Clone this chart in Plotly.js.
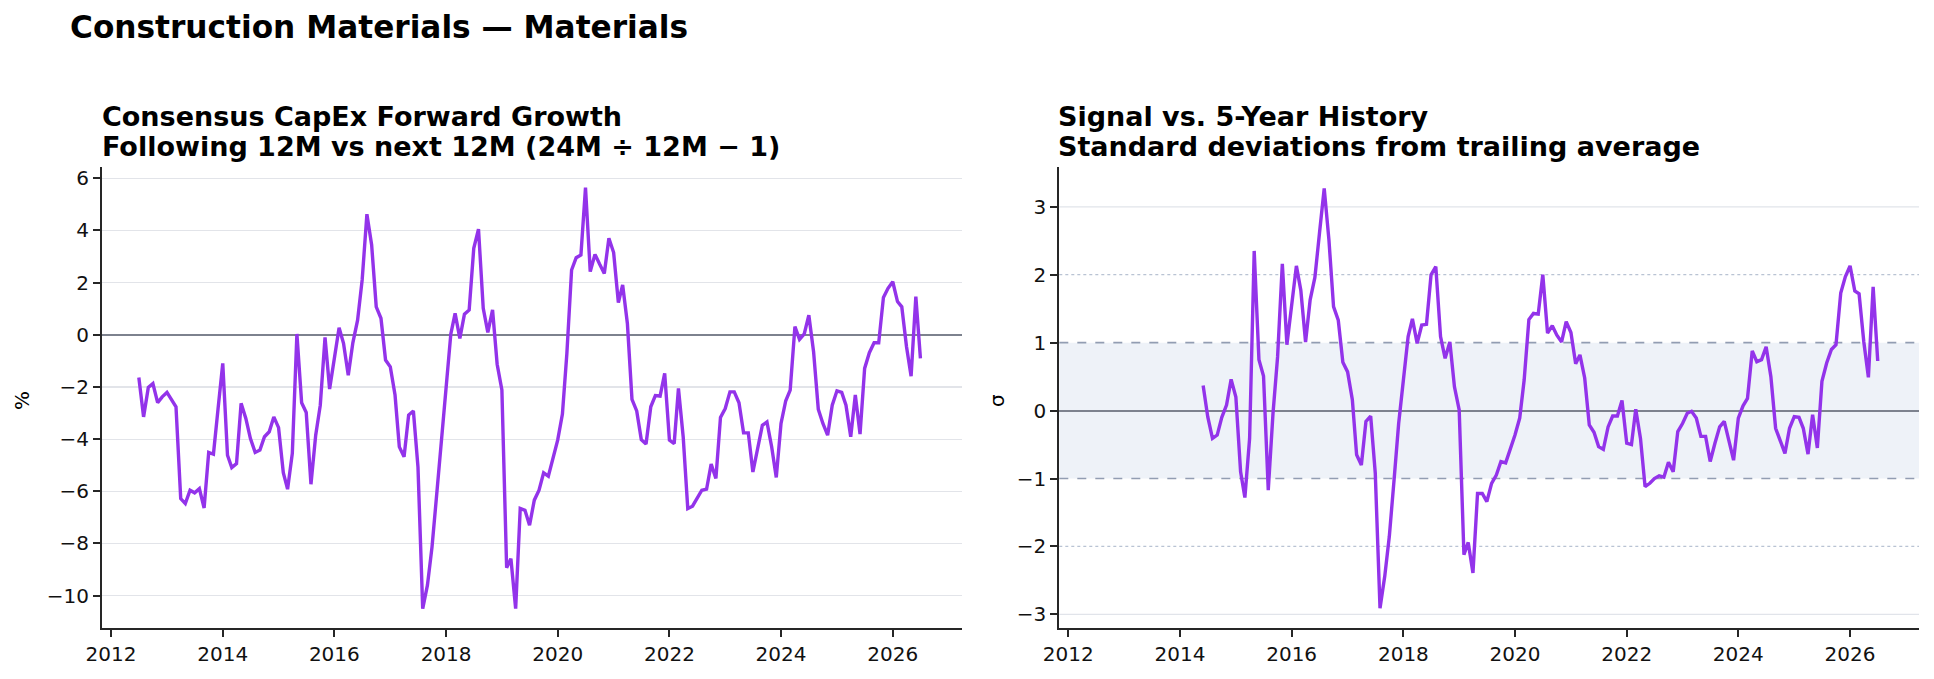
<!DOCTYPE html>
<html>
<head>
<meta charset="utf-8">
<script src="https://cdn.plot.ly/plotly-3.0.1.min.js"></script>
<style>
  html, body { margin: 0; padding: 0; background: #ffffff; }
  #chart { width: 1934px; height: 679px; }
</style>
</head>
<body>
<div id="chart"></div>
<script>
// Monthly consensus CapEx forward growth (%), Jul 2012 – Jul 2026
const growthStart = [2012, 7];
const growthPct = [
  -1.64, -3.15, -2.02, -1.87, -2.60, -2.38, -2.21, -2.53, -2.76, -6.28,
  -6.47, -5.96, -6.06, -5.90, -6.64, -4.51, -4.58, -2.85, -1.10, -4.62,
  -5.09, -4.94, -2.63, -3.21, -3.98, -4.51, -4.42, -3.91, -3.72, -3.15,
  -3.56, -5.29, -5.92, -4.55, 0.03, -2.61, -2.98, -5.73, -3.85, -2.70,
  -0.10, -2.08, -0.97, 0.27, -0.33, -1.55, -0.31, 0.56, 2.10, 4.62,
  3.44, 1.07, 0.63, -0.97, -1.23, -2.31, -4.30, -4.68, -3.08, -2.92,
  -5.06, -10.50, -9.60, -8.13, -6.09, -3.98, -2.12, 0.03, 0.82, -0.14,
  0.79, 0.95, 3.31, 4.05, 1.01, 0.09, 0.95, -1.13, -2.12, -8.93,
  -8.58, -10.50, -6.66, -6.73, -7.30, -6.34, -5.96, -5.29, -5.42, -4.74,
  -4.04, -3.04, -0.72, 2.48, 2.95, 3.06, 5.64, 2.42, 3.08, 2.71,
  2.35, 3.70, 3.15, 1.23, 1.91, 0.43, -2.48, -2.92, -4.02, -4.19,
  -2.76, -2.33, -2.35, -1.48, -4.04, -4.17, -2.06, -3.91, -6.66, -6.57,
  -6.25, -5.96, -5.92, -4.96, -5.51, -3.17, -2.83, -2.19, -2.19, -2.61,
  -3.76, -3.76, -5.26, -4.30, -3.47, -3.34, -4.30, -5.47, -3.40, -2.53,
  -2.12, 0.31, -0.18, 0.03, 0.75, -0.65, -2.86, -3.40, -3.85, -2.70,
  -2.15, -2.21, -2.70, -3.91, -2.31, -3.81, -1.29, -0.69, -0.31, -0.31,
  1.43, 1.78, 2.03, 1.27, 1.07, -0.46, -1.59, 1.46, -0.91
];

// Z-score of the signal against its trailing 5-year history, Jun 2014 – Jul 2026
const zStart = [2014, 6];
const zScore = [
  0.37, -0.09, -0.41, -0.36, -0.10, 0.08, 0.46, 0.20, -0.90, -1.28,
  -0.41, 2.35, 0.75, 0.51, -1.17, -0.04, 0.79, 2.16, 0.97, 1.53,
  2.13, 1.77, 1.01, 1.63, 1.96, 2.61, 3.27, 2.51, 1.53, 1.33,
  0.71, 0.57, 0.16, -0.65, -0.80, -0.16, -0.08, -0.92, -2.91, -2.44,
  -1.85, -1.02, -0.19, 0.45, 1.09, 1.35, 0.99, 1.26, 1.27, 2.00,
  2.12, 1.09, 0.77, 1.01, 0.35, 0.01, -2.12, -1.94, -2.39, -1.22,
  -1.22, -1.34, -1.07, -0.95, -0.75, -0.77, -0.58, -0.36, -0.11, 0.45,
  1.34, 1.43, 1.42, 2.00, 1.14, 1.25, 1.11, 1.01, 1.31, 1.15,
  0.69, 0.82, 0.48, -0.21, -0.32, -0.53, -0.57, -0.24, -0.08, -0.08,
  0.15, -0.48, -0.50, 0.02, -0.41, -1.12, -1.07, -1.00, -0.96, -0.98,
  -0.76, -0.90, -0.31, -0.19, -0.04, -0.01, -0.11, -0.38, -0.38, -0.75,
  -0.48, -0.24, -0.16, -0.43, -0.73, -0.11, 0.07, 0.18, 0.88, 0.72,
  0.75, 0.94, 0.50, -0.26, -0.46, -0.63, -0.26, -0.09, -0.10, -0.26,
  -0.64, -0.06, -0.55, 0.43, 0.70, 0.90, 0.97, 1.73, 1.97, 2.13,
  1.76, 1.72, 1.01, 0.49, 1.82, 0.73
];

const xTickYears = ['2012', '2014', '2016', '2018', '2020', '2022', '2024', '2026'];
const growthTicks = [-10, -8, -6, -4, -2, 0, 2, 4, 6];
const zTicks = [-3, -2, -1, 0, 1, 2, 3];

const suptitle = 'Construction Materials — Materials';
const leftTitle = ['Consensus CapEx Forward Growth', 'Following 12M vs next 12M (24M ÷ 12M − 1)'];
const rightTitle = ['Signal vs. 5-Year History', 'Standard deviations from trailing average'];

// Month-start date strings for a series beginning at [year, month]
function monthDates(start, n) {
  const out = [];
  let y = start[0], m = start[1];
  for (let i = 0; i < n; i++) {
    out.push(y + '-' + String(m).padStart(2, '0') + '-01');
    m += 1;
    if (m > 12) { m = 1; y += 1; }
  }
  return out;
}

const W = 1934, H = 679;
const FONT = 'DejaVu Sans, Liberation Sans, sans-serif';
const INK = '#262626';
const PURPLE = '#9333ea';

const px = v => v / W;            // horizontal pixel -> paper
const py = v => 1 - v / H;        // vertical pixel -> paper

const traces = [
  {
    x: monthDates(growthStart, growthPct.length), y: growthPct,
    type: 'scatter', mode: 'lines', xaxis: 'x', yaxis: 'y',
    line: { color: PURPLE, width: 3.4 }, hoverinfo: 'skip', showlegend: false
  },
  {
    x: monthDates(zStart, zScore.length), y: zScore,
    type: 'scatter', mode: 'lines', xaxis: 'x2', yaxis: 'y2',
    line: { color: PURPLE, width: 3.4 }, hoverinfo: 'skip', showlegend: false
  }
];

const xRange = ['2011-11-03', '2027-03-28'];
const xCommon = {
  type: 'date', range: xRange,
  tickvals: xTickYears.map(y => y + '-01-01'), ticktext: xTickYears,
  ticks: 'outside', ticklen: 7, tickwidth: 2, tickcolor: INK,
  showline: true, linecolor: INK, linewidth: 2,
  showgrid: false, zeroline: false,
  tickfont: { family: FONT, size: 20, color: '#111' }
};
const yCommon = {
  ticks: 'outside', ticklen: 7, tickwidth: 2, tickcolor: INK,
  showline: true, linecolor: INK, linewidth: 2,
  zeroline: true, zerolinecolor: '#7d828e', zerolinewidth: 2,
  tickfont: { family: FONT, size: 20, color: '#111' }
};

const yDomain = [py(628), py(166.7)];

const bandLine = (v, dash, color, width) => ({
  type: 'line', xref: 'x2 domain', yref: 'y2', x0: 0, x1: 1, y0: v, y1: v,
  line: { color: color, width: width, dash: dash }, layer: 'below'
});

// ±1σ band with dashed edges, dotted ±2σ guides, light ±3σ rules
const shapes = [
  { type: 'rect', xref: 'x2 domain', yref: 'y2', x0: 0, x1: 1, y0: -1, y1: 1,
    fillcolor: '#eef2f8', line: { width: 0 }, layer: 'below' },
  bandLine(3, 'solid', '#e1e4ea', 1.2),
  bandLine(-3, 'solid', '#e1e4ea', 1.2),
  bandLine(2, 'dot', '#b9c3d3', 1.2),
  bandLine(-2, 'dot', '#b9c3d3', 1.2),
  bandLine(1, 'dash', '#929db2', 1.6),
  bandLine(-1, 'dash', '#929db2', 1.6)
];

const ann = (text, x, y, size, extra) => Object.assign({
  text: text, xref: 'paper', yref: 'paper', x: x, y: y,
  xanchor: 'left', yanchor: 'middle', showarrow: false,
  font: { family: FONT, size: size, color: '#000' }
}, extra || {});

const annotations = [
  ann('<b>' + suptitle + '</b>', px(68), py(27), 31.2),
  ann('<b>' + leftTitle[0] + '</b>', px(100), py(116), 27),
  ann('<b>' + leftTitle[1] + '</b>', px(100), py(146), 27),
  ann('<b>' + rightTitle[0] + '</b>', px(1056), py(116), 27),
  ann('<b>' + rightTitle[1] + '</b>', px(1056), py(146), 27),
  ann('%', px(22), py(401), 20, { xanchor: 'center', textangle: -90 }),
  ann('σ', px(997), py(401), 20, { xanchor: 'center', textangle: -90 })
];

const layout = {
  width: W, height: H,
  margin: { l: 0, r: 0, t: 0, b: 0 },
  paper_bgcolor: '#ffffff', plot_bgcolor: '#ffffff',
  showlegend: false,
  font: { family: FONT, color: '#111' },
  xaxis: Object.assign({}, xCommon, { domain: [px(102), px(961.7)], anchor: 'y' }),
  yaxis: Object.assign({}, yCommon, {
    domain: yDomain, anchor: 'x', range: [-11.24, 6.44],
    tickvals: growthTicks, showgrid: true, gridcolor: '#e2e4e9', gridwidth: 1.2
  }),
  xaxis2: Object.assign({}, xCommon, { domain: [px(1059.3), px(1919)], anchor: 'y2' }),
  yaxis2: Object.assign({}, yCommon, {
    domain: yDomain, anchor: 'x2', range: [-3.2, 3.59],
    tickvals: zTicks, showgrid: false
  }),
  shapes: shapes,
  annotations: annotations
};

Plotly.newPlot('chart', traces, layout, { displayModeBar: false, staticPlot: true });
</script>
</body>
</html>
